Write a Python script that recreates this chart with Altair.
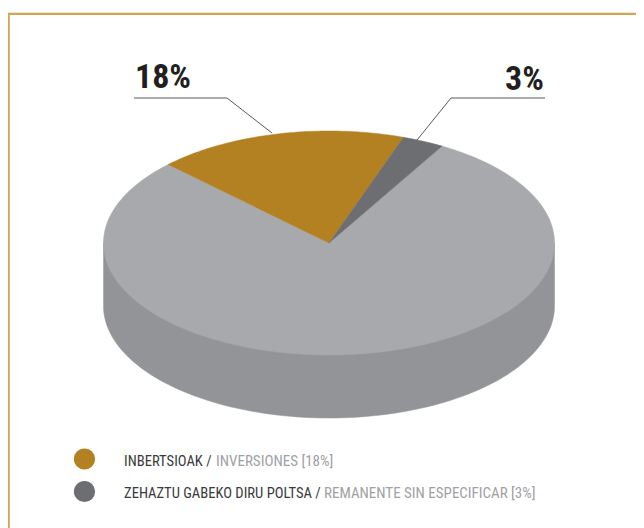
import math
import altair as alt
import pandas as pd

# Values
shares = [18, 3, 79]
slice_names = ["INBERTSIOAK", "ZEHAZTU", "REST"]
slice_colors = ["#B38122", "#6D6E71", "#A7A9AC"]
start_angle = -45.5
side_color = "#929497"
big_labels = ["18%", "3%"]
legend_dark = ["INBERTSIOAK /", "ZEHAZTU GABEKO DIRU POLTSA /"]
legend_light = ["INVERSIONES [18%]", "REMANENTE SIN ESPECIFICAR [3%]"]
legend_colors = ["#B38122", "#6D6E71"]

CX, CY, RX, RY, DEPTH = 329, 243, 225.5, 112, 63


def pt(deg, dy=0):
    a = math.radians(deg)
    return CX + RX * math.sin(a), CY - RY * math.cos(a) + dy


rows = []
side = [pt(90)] + [pt(90 + i * 2, DEPTH) for i in range(91)] + [pt(270)]
for o, (x, y) in enumerate(side):
    rows.append(dict(name="side", o=o, x=x, y=y))
ang = start_angle
for name, s in zip(slice_names, shares):
    sweep = s * 3.6
    n = max(4, int(sweep))
    poly = [(CX, CY)] + [pt(ang + sweep * i / n) for i in range(n + 1)]
    for o, (x, y) in enumerate(poly):
        rows.append(dict(name=name, o=o, x=x, y=y))
    ang += sweep
df = pd.DataFrame(rows)

X = alt.X("x:Q", axis=None, scale=alt.Scale(domain=[8, 636], range=[0, 628]))
Y = alt.Y("y:Q", axis=None, scale=alt.Scale(domain=[8, 528], range=[0, 520]))


def shape(name, color):
    return (
        alt.Chart(df[df.name == name])
        .mark_line(interpolate="linear-closed", fill=color, stroke=color, strokeWidth=0.5, clip=True)
        .encode(x=X, y=Y, order="o:Q")
    )


layers = [shape("side", side_color)]
for name, color in zip(["REST", "INBERTSIOAK", "ZEHAZTU"], [slice_colors[2], slice_colors[0], slice_colors[1]]):
    layers.append(shape(name, color))

frame = pd.DataFrame({"x": [8.7, 8.7, 636], "y": [528, 13.8, 13.8], "o": [0, 1, 2]})
layers.append(
    alt.Chart(frame).mark_line(color="#CFA652", strokeWidth=2.2, clip=True).encode(x=X, y=Y, order="o:Q")
)

leaders = pd.DataFrame(
    {
        "k": ["a"] * 3 + ["b"] * 3,
        "x": [134, 227, 272, 545, 451, 417],
        "y": [98, 98, 133, 98, 98, 140],
        "o": [0, 1, 2, 0, 1, 2],
    }
)
layers.append(
    alt.Chart(leaders).mark_line(color="#58595B", strokeWidth=1).encode(x=X, y=Y, order="o:Q", detail="k:N")
)

FONT = "'Roboto Condensed', Roboto"
big = pd.DataFrame({"x": [135, 544], "y": [88, 89.5], "t": big_labels, "a": ["left", "right"]})
for a in ["left", "right"]:
    layers.append(
        alt.Chart(big[big.a == a])
        .mark_text(font=FONT, fontWeight="bold", fontSize=34, align=a, baseline="alphabetic", color="#231F20")
        .encode(x=X, y=Y, text="t:N")
    )

leg_c = pd.DataFrame({"x": [84.5, 84.5], "y": [459, 491.5], "c": legend_colors})
layers.append(
    alt.Chart(leg_c)
    .mark_circle(size=450, opacity=1)
    .encode(x=X, y=Y, color=alt.Color("c:N", scale=None))
)

leg_d = pd.DataFrame({"x": [124, 124], "y": [465.5, 498], "t": legend_dark})
leg_l = pd.DataFrame({"x": [216, 324], "y": [465.5, 498], "t": legend_light})
layers.append(
    alt.Chart(leg_d)
    .mark_text(font=FONT, fontSize=14.6, align="left", baseline="alphabetic", color="#3A3A3C")
    .encode(x=X, y=Y, text="t:N")
)
layers.append(
    alt.Chart(leg_l)
    .mark_text(font=FONT, fontSize=15, align="left", baseline="alphabetic", color="#9FA1A4")
    .encode(x=X, y=Y, text="t:N")
)

chart = (
    alt.layer(*layers)
    .properties(width=628, height=520, padding=0, autosize=alt.AutoSizeParams(type="none"), background="#FFFFFF")
    .configure_view(stroke=None)
)
chart.save("out.html", embed_options={"renderer": "svg", "actions": False})
